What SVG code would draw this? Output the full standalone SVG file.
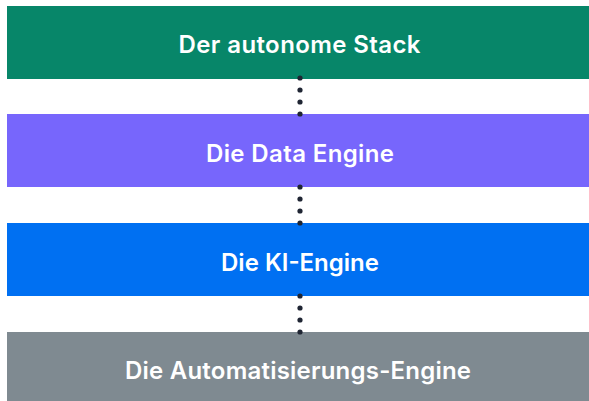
<svg xmlns="http://www.w3.org/2000/svg" width="589" height="401" viewBox="0 0 589 401">
<style>
.lbl{font-family:Inter,"Noto Sans","DejaVu Sans",sans-serif;font-weight:600;font-size:24px;fill:#ffffff}
.dot{fill:#1f2533}
</style>
<rect width="589" height="401" fill="#ffffff"/>
<g id="stack">
<rect x="7" y="6" width="582" height="73" fill="#078669"/>
<text class="lbl" x="178.5" y="53" textLength="242" lengthAdjust="spacing">Der autonome Stack</text>
</g>
<g id="data">
<rect x="7" y="114" width="582" height="73" fill="#7766FC"/>
<text class="lbl" x="206" y="161.5" textLength="188" lengthAdjust="spacing">Die Data Engine</text>
</g>
<g id="ki">
<rect x="7" y="223" width="582" height="73" fill="#0070F2"/>
<text class="lbl" x="221" y="271" textLength="158" lengthAdjust="spacing">Die KI-Engine</text>
</g>
<g id="auto">
<rect x="7" y="332" width="582" height="69" fill="#7F8A91"/>
<text class="lbl" x="125" y="379" textLength="346" lengthAdjust="spacing">Die Automatisierungs-Engine</text>
</g>
<g id="connectors">
<circle class="dot" cx="300" cy="78" r="2.6"/>
<circle class="dot" cx="300" cy="90" r="2.6"/>
<circle class="dot" cx="300" cy="102" r="2.6"/>
<circle class="dot" cx="300" cy="114" r="2.6"/>
<circle class="dot" cx="300" cy="187" r="2.6"/>
<circle class="dot" cx="300" cy="199" r="2.6"/>
<circle class="dot" cx="300" cy="211" r="2.6"/>
<circle class="dot" cx="300" cy="223" r="2.6"/>
<circle class="dot" cx="300" cy="296" r="2.6"/>
<circle class="dot" cx="300" cy="308" r="2.6"/>
<circle class="dot" cx="300" cy="320" r="2.6"/>
<circle class="dot" cx="300" cy="332" r="2.6"/>
</g>
</svg>
